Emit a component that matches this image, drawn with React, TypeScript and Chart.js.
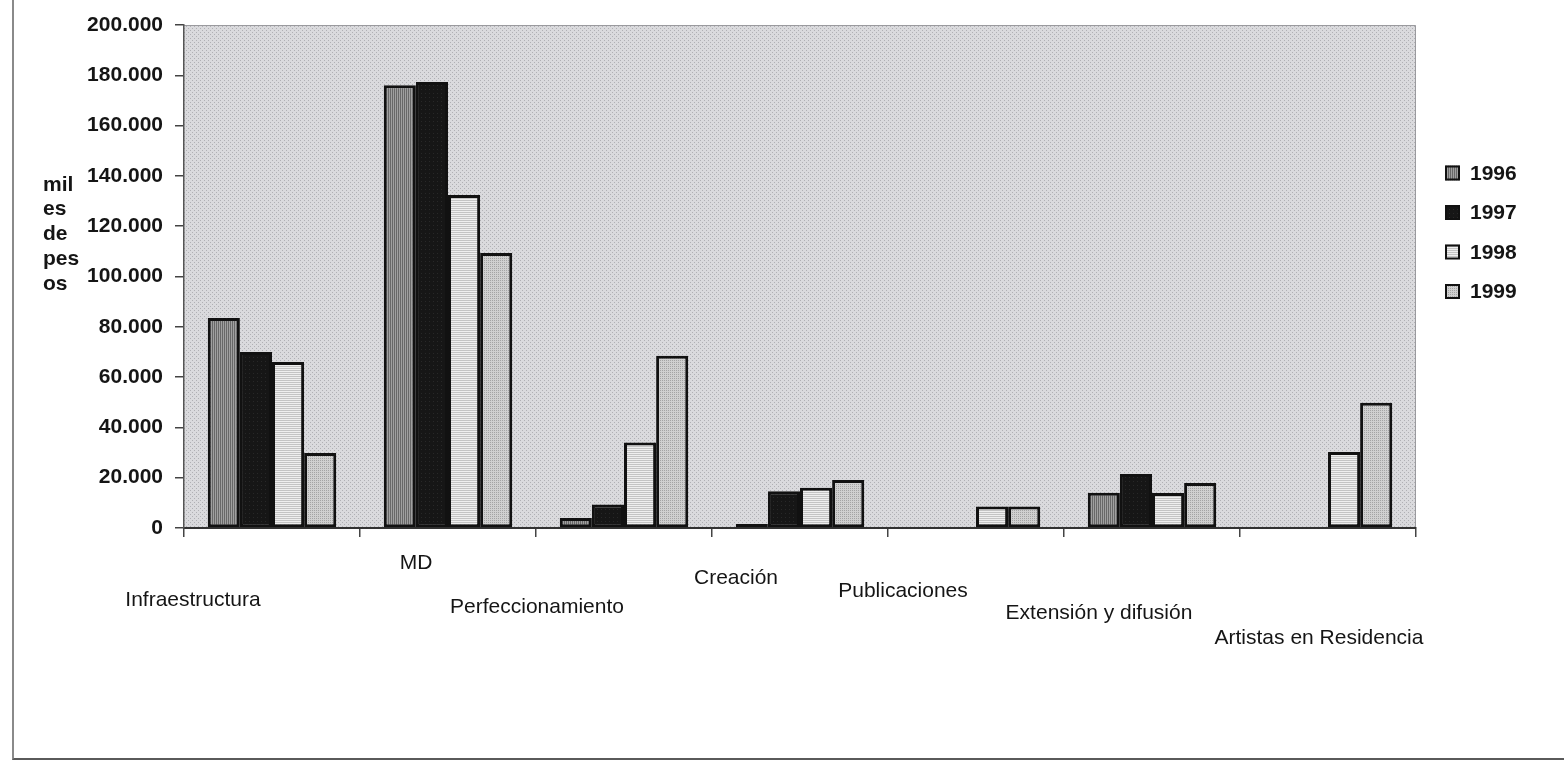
import React, { useEffect, useRef } from "react";
import { Chart, registerables } from "chart.js";

Chart.register(...registerables);

const categories = [
  "Infraestructura",
  "MD",
  "Perfeccionamiento",
  "Creación",
  "Publicaciones",
  "Extensión y difusión",
  "Artistas en Residencia",
];

const seriesNames = ["1996", "1997", "1998", "1999"];

const values1996 = [83500, 176000, 4000, 1600, 0, 14000, 0];
const values1997 = [70000, 177300, 9300, 14600, 0, 21500, 0];
const values1998 = [66000, 132400, 34000, 16000, 8500, 13900, 30200];
const values1999 = [29800, 109300, 68500, 19100, 8500, 17900, 49800];

const yTickMin = 0;
const yTickMax = 200000;
const yTickStep = 20000;

const yTitleLines = ["mil", "es", "de", "pes", "os"];

// label placement (style only): offsets from category centre / axis bottom
const LABEL_DX = [-79, -32, -87, -64, -73, -53, -9];
const LABEL_DY = [72, 35, 79, 50, 63, 85, 110];

const FONT = '"Liberation Sans", Arial, Helvetica, sans-serif';

function makePattern(kind: string): CanvasPattern | string {
  const c = document.createElement("canvas");
  c.width = 4;
  c.height = 4;
  const g = c.getContext("2d");
  if (!g) return "#999";
  if (kind === "bg") {
    g.fillStyle = "#dadadd";
    g.fillRect(0, 0, 4, 4);
    g.fillStyle = "#b0b0b4";
    g.fillRect(0, 0, 1, 1);
    g.fillRect(2, 2, 1, 1);
  } else if (kind === "1996") {
    g.fillStyle = "#a0a0a0";
    g.fillRect(0, 0, 4, 4);
    g.fillStyle = "#686868";
    g.fillRect(0, 0, 1, 4);
    g.fillRect(2, 0, 1, 4);
  } else if (kind === "1997") {
    g.fillStyle = "#161616";
    g.fillRect(0, 0, 4, 4);
    g.fillStyle = "#282828";
    g.fillRect(1, 1, 1, 1);
  } else if (kind === "1998") {
    g.fillStyle = "#efefef";
    g.fillRect(0, 0, 4, 4);
    g.fillStyle = "#c4c4c4";
    g.fillRect(0, 0, 4, 1);
    g.fillRect(0, 2, 4, 1);
  } else {
    g.fillStyle = "#d0d0d0";
    g.fillRect(0, 0, 4, 4);
    g.fillStyle = "#a4a4a4";
    g.fillRect(0, 0, 1, 1);
    g.fillRect(2, 2, 1, 1);
    g.fillRect(2, 0, 1, 1);
    g.fillRect(0, 2, 1, 1);
  }
  const p = g.createPattern(c, "repeat");
  return p || "#999";
}

function formatThousands(v: number): string {
  return String(Math.round(v)).replace(/\B(?=(\d{3})+(?!\d))/g, ".");
}

export default function App() {
  const canvasRef = useRef<HTMLCanvasElement | null>(null);

  useEffect(() => {
    const canvas = canvasRef.current;
    if (!canvas) return;
    const bgPattern = makePattern("bg");
    const fills = seriesNames.map((s) => makePattern(s));
    const allValues = [values1996, values1997, values1998, values1999];

    const customPlugin = {
      id: "customDecor",
      beforeDraw(chart: any) {
        const { ctx, chartArea } = chart;
        ctx.save();
        ctx.fillStyle = bgPattern;
        ctx.fillRect(
          chartArea.left,
          chartArea.top,
          chartArea.right - chartArea.left,
          chartArea.bottom - chartArea.top
        );
        ctx.strokeStyle = "#9a9a9e";
        ctx.lineWidth = 1;
        ctx.beginPath();
        ctx.moveTo(chartArea.left, chartArea.top + 0.5);
        ctx.lineTo(chartArea.right - 0.5, chartArea.top + 0.5);
        ctx.lineTo(chartArea.right - 0.5, chartArea.bottom);
        ctx.stroke();
        ctx.restore();
      },
      afterDraw(chart: any) {
        const { ctx, chartArea } = chart;
        const xs = chart.scales.x;
        ctx.save();
        // category labels
        ctx.font = `21px ${FONT}`;
        ctx.fillStyle = "#151515";
        ctx.textAlign = "center";
        ctx.textBaseline = "middle";
        categories.forEach((c, i) => {
          ctx.fillText(c, xs.getPixelForValue(i) + LABEL_DX[i], xs.top + LABEL_DY[i]);
        });
        // y-axis title
        ctx.font = `bold 21px ${FONT}`;
        ctx.textAlign = "left";
        yTitleLines.forEach((t, i) => {
          ctx.fillText(t, chartArea.left - 141, 185 + i * 24.7);
        });
        // legend
        chart.data.datasets.forEach((ds: any, i: number) => {
          const y = 173 + i * 39.5;
          const bx = chartArea.right + 29;
          ctx.fillStyle = ds.backgroundColor;
          ctx.fillRect(bx, y - 7.5, 15, 15);
          ctx.strokeStyle = "#111";
          ctx.lineWidth = 2;
          ctx.strokeRect(bx + 1, y - 6.5, 13, 13);
          ctx.fillStyle = "#151515";
          ctx.font = `bold 21px ${FONT}`;
          ctx.textAlign = "left";
          ctx.fillText(ds.label, bx + 25, y + 1);
        });
        ctx.restore();
      },
    };

    const chart = new Chart(canvas, {
      type: "bar",
      data: {
        labels: categories,
        datasets: seriesNames.map((name, i) => ({
          label: name,
          data: allValues[i],
          backgroundColor: fills[i] as any,
          borderColor: "#111111",
          borderWidth: 3,
          borderSkipped: false,
          categoryPercentage: 0.73,
          barPercentage: 1.0,
        })),
      },
      options: {
        animation: false,
        responsive: false,
        layout: { padding: { top: 25, right: 148, left: 0, bottom: 0 } },
        plugins: {
          legend: { display: false },
          tooltip: { enabled: false },
          title: { display: false },
        },
        scales: {
          x: {
            type: "category",
            grid: {
              display: true,
              drawOnChartArea: false,
              drawTicks: true,
              tickLength: 9,
              color: "#444",
              lineWidth: 1.5,
              offset: true,
            },
            border: { display: true, color: "#333", width: 2 },
            ticks: { display: false },
            afterFit(scale: any) {
              scale.height = 236;
            },
          },
          y: {
            min: yTickMin,
            max: yTickMax,
            grid: {
              display: true,
              drawOnChartArea: false,
              drawTicks: true,
              tickLength: 9,
              color: "#444",
              lineWidth: 1.5,
            },
            border: { display: true, color: "#555", width: 1.5 },
            ticks: {
              stepSize: yTickStep,
              padding: 12,
              color: "#151515",
              font: { family: FONT, size: 21, weight: "bold" },
              callback: (v: any) => formatThousands(Number(v)),
            },
            afterFit(scale: any) {
              scale.width = 184;
            },
          },
        },
      },
      plugins: [customPlugin],
    });
    return () => chart.destroy();
  }, []);

  return (
    <div
      style={{
        position: "fixed",
        left: 0,
        top: 0,
        width: 1564,
        height: 764,
        background: "#ffffff",
        overflow: "hidden",
      }}
    >
      <canvas ref={canvasRef} width={1564} height={764} style={{ display: "block" }} />
      <div
        style={{
          position: "absolute",
          left: 12,
          top: 0,
          width: 1552,
          height: 758,
          borderLeft: "2px solid #8a8a8a",
          borderBottom: "2px solid #5a5a5a",
          pointerEvents: "none",
        }}
      />
    </div>
  );
}
